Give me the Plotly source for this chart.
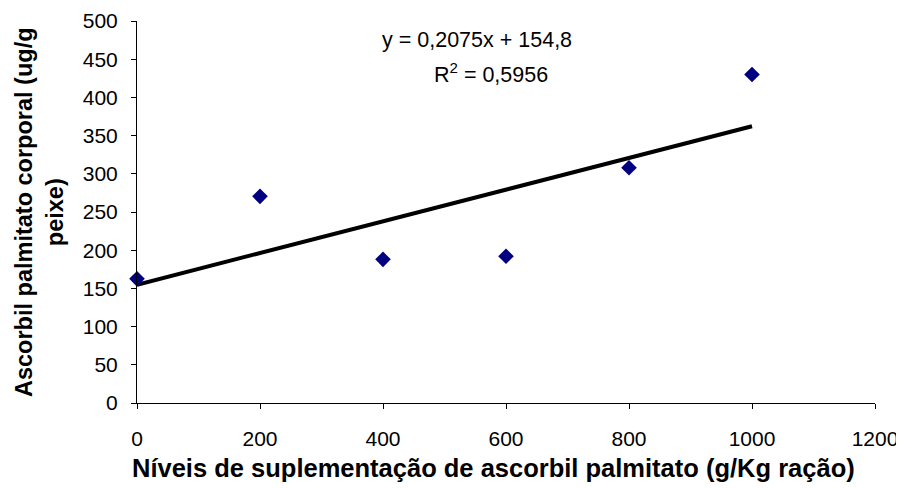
import plotly.graph_objects as go

# Data
levels = [0, 200, 400, 600, 800, 1000]
ascorbil = [162.5, 270.5, 188, 192, 308, 430]
slope = 0.2075
intercept = 154.8
r2 = 0.5956
x_ticks = [0, 200, 400, 600, 800, 1000, 1200]
y_ticks = [0, 50, 100, 150, 200, 250, 300, 350, 400, 450, 500]

trend_x = [min(levels), max(levels)]
trend_y = [intercept + slope * v for v in trend_x]

FONT = "Liberation Sans, Arial, sans-serif"

fig = go.Figure()
fig.add_trace(go.Scatter(
    x=trend_x, y=trend_y, mode="lines",
    line=dict(color="black", width=4), hoverinfo="skip", showlegend=False))
fig.add_trace(go.Scatter(
    x=levels, y=ascorbil, mode="markers",
    marker=dict(symbol="diamond", size=12, color="#000080"),
    showlegend=False, cliponaxis=False))

axis_common = dict(
    showgrid=False, zeroline=False, showline=True, linecolor="black", linewidth=1,
    ticks="outside", ticklen=5, tickcolor="black", tickwidth=1, automargin=False,
    ticklabeloverflow="allow",
    tickfont=dict(family=FONT, size=21, color="black"),
)
fig.update_xaxes(range=[0, 1200], tickvals=x_ticks, ticklabelstandoff=12, **axis_common)
fig.update_yaxes(range=[0, 500], tickvals=y_ticks, ticklabelstandoff=9, **axis_common)

# page body has an 8px default margin, so the figure is sized to fit inside the window
fig.update_layout(
    width=896, height=480,
    margin=dict(l=129, r=29, t=13, b=85),
    plot_bgcolor="white", paper_bgcolor="white",
    font=dict(family=FONT, color="black"),
    annotations=[
        dict(text=f"y = {str(slope).replace('.', ',')}x + {str(intercept).replace('.', ',')}",
             xref="paper", yref="paper", x=0.461, y=0.95, xanchor="center", yanchor="middle",
             showarrow=False, font=dict(size=21.5)),
        dict(text=f"R<sup>2</sup> = {str(r2).replace('.', ',')}",
             xref="paper", yref="paper", x=0.479, y=0.863, xanchor="center", yanchor="middle",
             showarrow=False, font=dict(size=21.5)),
        dict(text="<b>Níveis de suplementação de ascorbil palmitato (g/Kg ração)</b>",
             xref="paper", yref="paper", x=0.483, y=-0.17, xanchor="center", yanchor="middle",
             showarrow=False, font=dict(size=25.5)),
        dict(text="<b>Ascorbil palmitato corporal (ug/g<br>peixe)</b>",
             xref="paper", yref="paper", x=-0.1328, y=0.5, xanchor="center", yanchor="middle",
             textangle=-90, showarrow=False, font=dict(size=23.5)),
    ],
)

fig.write_html("out.html")
